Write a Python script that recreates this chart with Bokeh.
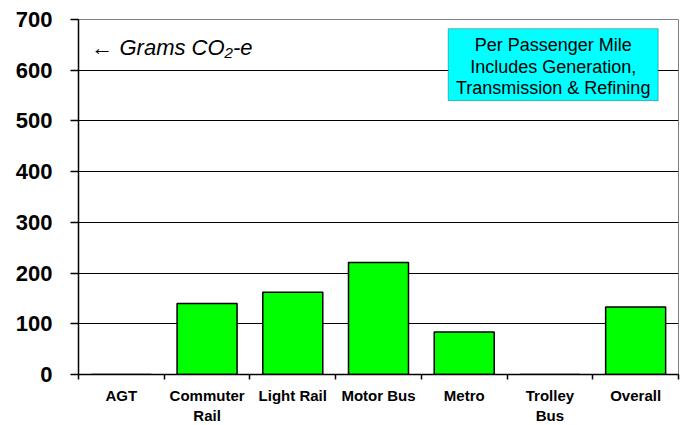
from bokeh.plotting import figure
from bokeh.models import Range1d, FixedTicker, ColumnDataSource, Label, BoxAnnotation
from bokeh.embed import file_html
from bokeh.resources import INLINE

categories = ["AGT", "Commuter Rail", "Light Rail", "Motor Bus", "Metro", "Trolley Bus", "Overall"]
tick_labels = ["AGT", "Commuter\nRail", "Light Rail", "Motor Bus", "Metro", "Trolley\nBus", "Overall"]
grams_co2e = [0, 140, 162, 221, 84, 0, 133]
y_ticks = [0, 100, 200, 300, 400, 500, 600, 700]
note_lines = ["Per Passenger Mile", "Includes Generation,", "Transmission & Refining"]
unit_text = "\u2190 Grams CO\u2082-e"

FONT = "Liberation Sans"
n = len(categories)
centers = [i + 0.5 for i in range(n)]
bounds = list(range(n + 1))

p = figure(x_range=Range1d(0, n), y_range=Range1d(0, 700),
           frame_width=600, frame_height=355,
           min_border_left=78, min_border_right=2, min_border_top=19, min_border_bottom=0,
           output_backend="svg", toolbar_location=None,
           background_fill_color="white", border_fill_color="white")

p.outline_line_color = "#808080"
p.outline_line_width = 1

# y axis
ya = p.yaxis[0]
ya.ticker = FixedTicker(ticks=y_ticks)
ya.major_label_text_font = FONT
ya.major_label_text_font_style = "bold"
ya.major_label_text_font_size = "22px"
ya.major_label_text_color = "black"
ya.major_tick_out = 8
ya.major_tick_in = 0
ya.minor_tick_line_color = None
ya.axis_line_color = "black"
ya.axis_line_width = 1.5
ya.major_tick_line_color = "black"
ya.major_tick_line_width = 1.5
ya.major_label_standoff = 18

p.xgrid.visible = False
p.ygrid.ticker = FixedTicker(ticks=y_ticks[1:-1])
p.ygrid.grid_line_color = "black"
p.ygrid.grid_line_width = 1.2

# x axis: labels at category centres, tick marks at category boundaries
xa = p.xaxis[0]
xa.ticker = FixedTicker(ticks=centers, minor_ticks=bounds)
xa.major_label_overrides = {c: lab for c, lab in zip(centers, tick_labels)}
xa.major_label_text_font = FONT
xa.major_label_text_font_style = "bold"
xa.major_label_text_font_size = "15px"
xa.major_label_text_color = "black"
xa.major_label_text_line_height = 1.2
xa.major_label_standoff = 7
xa.major_tick_out = 5
xa.major_tick_in = 0
xa.major_tick_line_color = None
xa.minor_tick_out = 5
xa.minor_tick_in = 0
xa.minor_tick_line_color = "black"
xa.minor_tick_line_width = 1.5
xa.axis_line_color = "black"
xa.axis_line_width = 1.5

src = ColumnDataSource(dict(x=centers, val=grams_co2e))
p.vbar(x="x", top="val", width=0.7, source=src, fill_color="#00FF00",
       line_color="black", line_width=1.5)

p.add_layout(Label(x=0.15, y=645, text=unit_text, text_font=FONT,
                   text_font_style="italic", text_font_size="22px", text_baseline="middle",
                   text_color="black"))

p.add_layout(BoxAnnotation(left=4.313, right=6.763, bottom=540, top=682,
                           fill_color="#00FFFF", fill_alpha=1, line_color="black",
                           line_width=1, level="annotation"))
for line, yv in zip(note_lines, [650.7, 607.3, 565.9]):
    p.add_layout(Label(x=5.538, y=yv, text=line, text_font=FONT,
                       text_font_size="18px", text_align="center", text_baseline="middle",
                       text_color="black"))

open("out.html", "w").write(file_html(p, INLINE))
